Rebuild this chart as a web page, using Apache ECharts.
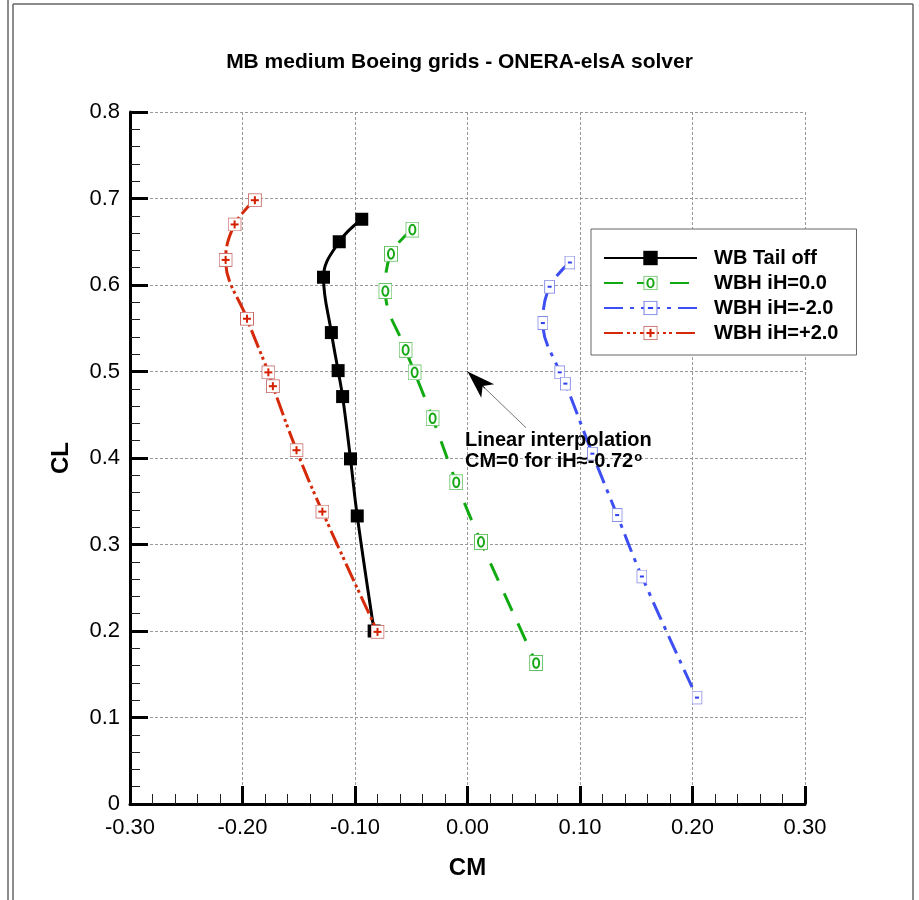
<!DOCTYPE html>
<html><head><meta charset="utf-8">
<script src="https://cdn.jsdelivr.net/npm/echarts@6/dist/echarts.min.js"></script>
<style>html,body{margin:0;padding:0;background:#fff}#c{width:919px;height:900px}</style>
</head><body><div id="c"></div><script>
const titleText = 'MB medium Boeing grids - ONERA-elsA solver';
const seriesNames = ['WB Tail off', 'WBH iH=0.0', 'WBH iH=-2.0', 'WBH iH=+2.0'];
const xTickLabels = ['-0.30', '-0.20', '-0.10', '0.00', '0.10', '0.20', '0.30'];
const yTickLabels = ['0', '0.1', '0.2', '0.3', '0.4', '0.5', '0.6', '0.7', '0.8'];

const wbCM = [-0.094, -0.114, -0.128, -0.121, -0.115, -0.111, -0.104, -0.098, -0.083];
const wbCL = [0.676, 0.650, 0.609, 0.545, 0.501, 0.471, 0.399, 0.333, 0.200];
const h0CM = [-0.049, -0.068, -0.073, -0.055, -0.047, -0.031, -0.010, 0.012, 0.061];
const h0CL = [0.664, 0.636, 0.593, 0.525, 0.499, 0.446, 0.372, 0.303, 0.163];
const hm2CM = [0.091, 0.073, 0.067, 0.082, 0.087, 0.111, 0.133, 0.155, 0.204];
const hm2CL = [0.626, 0.598, 0.556, 0.499, 0.486, 0.405, 0.334, 0.263, 0.123];
const hp2CM = [-0.189, -0.207, -0.215, -0.196, -0.177, -0.173, -0.152, -0.129, -0.080];
const hp2CL = [0.698, 0.670, 0.629, 0.561, 0.499, 0.483, 0.409, 0.338, 0.199];

const arrowTail = [0.052, 0.435];
const arrowTip = [0.0, 0.5];
const noteLines = ['Linear interpolation', 'CM=0 for iH\u2248-0.72'];

const zip = (a, b) => a.map((v, i) => [v, b[i]]);
const svg = s => 'image://data:image/svg+xml;charset=utf-8,' + encodeURIComponent(s);

const symGreen = svg("<svg xmlns='http://www.w3.org/2000/svg' width='14' height='16'><rect x='0.5' y='0.5' width='13' height='15' fill='white' stroke='#62c062' stroke-width='1'/><ellipse cx='7' cy='8' rx='3' ry='4.8' fill='none' stroke='#14a814' stroke-width='2'/></svg>");
const symBlue = svg("<svg xmlns='http://www.w3.org/2000/svg' width='11' height='14'><rect x='0.5' y='0.5' width='10' height='13' fill='white' stroke='#7f86e6' stroke-width='1'/><rect x='3.5' y='6' width='4' height='2' fill='#2f40f0'/></svg>");
const symRed = svg("<svg xmlns='http://www.w3.org/2000/svg' width='14' height='14'><rect x='0.5' y='0.5' width='13' height='13' fill='white' stroke='#c86a6a' stroke-width='1'/><rect x='3' y='6' width='8' height='2' fill='#d42000'/><rect x='6' y='3' width='2' height='8' fill='#d42000'/></svg>");

const FONT = 'Liberation Sans, Arial, Helvetica, sans-serif';
const chart = echarts.init(document.getElementById('c'), null, {renderer: 'canvas'});

const xMin = -0.3, xInt = 0.1, yMin = 0, yInt = 0.1;

chart.setOption({
  animation: false,
  backgroundColor: '#fff',
  title: {
    text: titleText, left: 'center', top: 47,
    textStyle: {fontFamily: FONT, fontSize: 21, fontWeight: 'bold', color: '#000'}
  },
  grid: {left: 130, right: 114, top: 112, bottom: 96},
  legend: {
    orient: 'vertical', left: 591, top: 229,
    data: seriesNames,
    itemWidth: 93, itemHeight: 18, itemGap: 5,
    padding: [19, 18, 12, 12],
    backgroundColor: '#fff', borderColor: '#666', borderWidth: 1,
    textStyle: {fontFamily: FONT, fontSize: 20, fontWeight: 'bold', color: '#000', padding: [0, 0, 0, 12]},
    selectedMode: false
  },
  xAxis: {
    type: 'value', min: xMin, max: 0.3, interval: xInt,
    name: 'CM', nameLocation: 'middle', nameGap: 52,
    nameTextStyle: {fontFamily: FONT, fontSize: 24, fontWeight: 'bold', color: '#000'},
    axisLine: {show: true, onZero: false, lineStyle: {color: '#000', width: 3}},
    axisTick: {show: true, inside: true, length: 18, lineStyle: {color: '#000', width: 3}},
    minorTick: {show: true, splitNumber: 5, length: 10, lineStyle: {color: '#222', width: 1}},
    axisLabel: {margin: 13, fontFamily: FONT, fontSize: 22, color: '#000',
      formatter: v => xTickLabels[Math.round((v - xMin) / xInt)]},
    splitLine: {show: true, lineStyle: {color: '#999', width: 1, type: [3, 2]}}
  },
  yAxis: {
    type: 'value', min: yMin, max: 0.8, interval: yInt,
    name: 'CL', nameLocation: 'middle', nameGap: 57,
    nameTextStyle: {fontFamily: FONT, fontSize: 24, fontWeight: 'bold', color: '#000'},
    axisLine: {show: true, onZero: false, lineStyle: {color: '#000', width: 3}},
    axisTick: {show: true, inside: true, length: 18, lineStyle: {color: '#000', width: 3}},
    minorTick: {show: true, splitNumber: 5, length: 10, lineStyle: {color: '#222', width: 1}},
    axisLabel: {margin: 10, fontFamily: FONT, fontSize: 22, color: '#000',
      formatter: v => yTickLabels[Math.round((v - yMin) / yInt)]},
    splitLine: {show: true, lineStyle: {color: '#999', width: 1, type: [3, 2]}}
  },
  series: [
    {
      name: seriesNames[0], type: 'line', data: zip(wbCM, wbCL), smooth: 0.4,
      symbol: 'rect', symbolSize: 13, showAllSymbol: true,
      lineStyle: {color: '#000', width: 3, type: 'solid'},
      itemStyle: {color: '#000'}, z: 2
    },
    {
      name: seriesNames[1], type: 'line', data: zip(h0CM, h0CL), smooth: 0.4,
      symbol: symGreen, symbolSize: [14, 16], showAllSymbol: true,
      lineStyle: {color: '#12aa12', width: 3, type: [19, 14]},
      itemStyle: {color: '#12aa12'}, z: 3
    },
    {
      name: seriesNames[2], type: 'line', data: zip(hm2CM, hm2CL), smooth: 0.4,
      symbol: symBlue, symbolSize: [11, 14], showAllSymbol: true,
      lineStyle: {color: '#3d4ff2', width: 3, type: [19, 7, 4, 7]},
      itemStyle: {color: '#3d4ff2'}, z: 4
    },
    {
      name: seriesNames[3], type: 'line', data: zip(hp2CM, hp2CL), smooth: 0.4,
      symbol: symRed, symbolSize: [14, 14], showAllSymbol: true,
      lineStyle: {color: '#d42a0a', width: 3, type: [19, 4, 3, 3, 3, 4]},
      itemStyle: {color: '#d42a0a'}, z: 5
    },
    {
      name: 'annotation', type: 'line', data: [], silent: true, z: 6,
      markLine: {
        silent: true, animation: false,
        label: {show: false},
        data: [
          [{coord: arrowTail, symbol: 'none', lineStyle: {color: '#777', width: 1, type: 'solid'}},
           {coord: arrowTip, symbol: 'none'}],
          [{coord: [arrowTip[0] + (arrowTail[0] - arrowTip[0]) * 0.3, arrowTip[1] + (arrowTail[1] - arrowTip[1]) * 0.3], symbol: 'none', lineStyle: {color: '#000', width: 1, type: 'solid'}},
           {coord: arrowTip, symbol: 'arrow', symbolSize: [14, 28]}]
        ]
      }
    }
  ],
  graphic: [
    {type: 'line', shape: {x1: 8, y1: 0, x2: 8, y2: 900}, style: {stroke: '#666', lineWidth: 1.5}, silent: true},
    {type: 'line', shape: {x1: 13, y1: 4, x2: 13, y2: 900}, style: {stroke: '#666', lineWidth: 1.5}, silent: true},
    {type: 'line', shape: {x1: 13, y1: 4, x2: 913, y2: 4}, style: {stroke: '#666', lineWidth: 1.5}, silent: true},
    {type: 'line', shape: {x1: 913, y1: 4, x2: 913, y2: 900}, style: {stroke: '#666', lineWidth: 1.5}, silent: true},
    {
      type: 'text', left: 465, top: 430, z: 10, silent: true,
      style: {
        text: noteLines[0] + '\n' + noteLines[1] + '{sup|o}',
        rich: {sup: {fontSize: 13, fontWeight: 'bold', verticalAlign: 'top', padding: [0, 0, 10, 1], fontFamily: FONT, fill: '#000'}},
        font: 'bold 20px ' + FONT, fill: '#000', lineHeight: 21
      }
    }
  ]
});
</script></body></html>
